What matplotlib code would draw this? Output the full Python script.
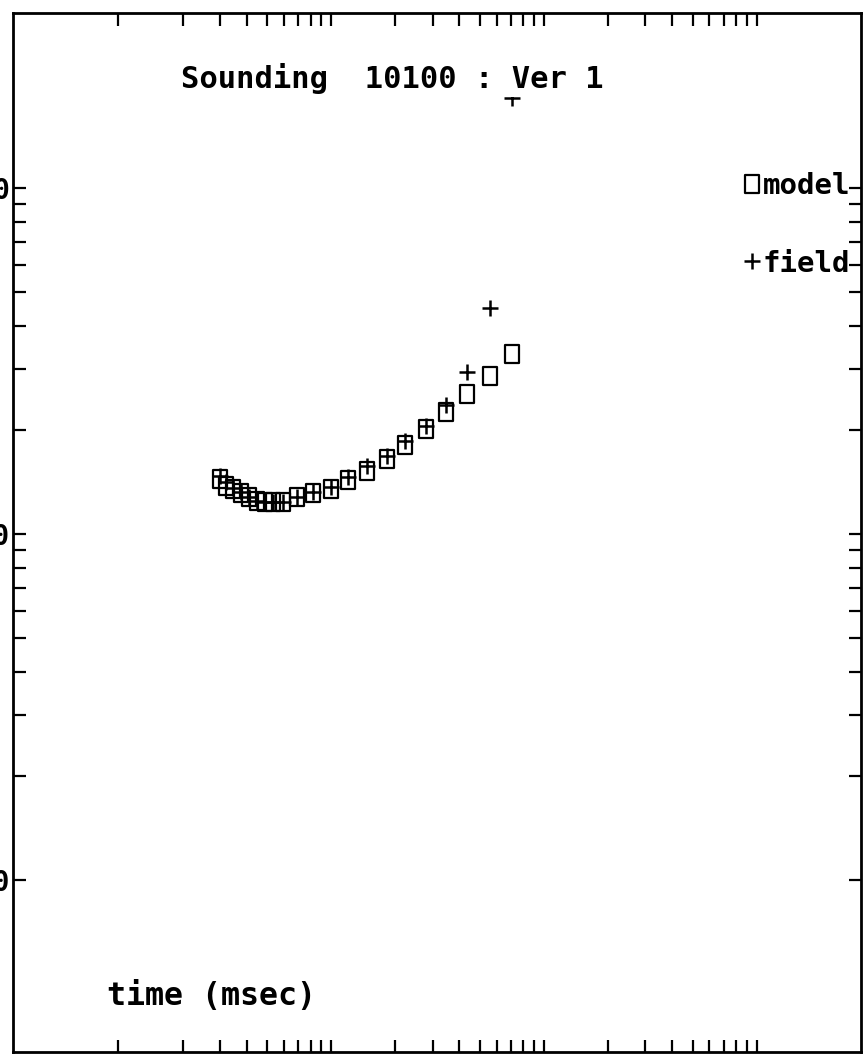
import numpy as np
import matplotlib
matplotlib.use('Agg')
import matplotlib.pyplot as plt
import matplotlib.ticker as mticker
from matplotlib.path import Path

# ============================================================
# Data: TEM sounding 10100, model vs field response
# ============================================================
time_ms = [0.300, 0.320, 0.345, 0.377, 0.411, 0.448, 0.489, 0.532, 0.593, 0.690, 0.820,
           1.00, 1.20, 1.47, 1.83, 2.22, 2.79, 3.47, 4.35, 5.58, 7.08]
model_vals = [144, 138, 135, 131, 128, 125, 124, 124, 124, 128, 131,
              135, 143, 152, 165, 181, 201, 225, 254, 286, 331]
field_vals = [147, 141, 136, 132, 128, 125, 124, 124, 124, 128, 132,
              137, 146, 157, 168, 186, 205, 236, 294, 450, 1820]

x_ticks = [0.1, 0.2, 0.3, 0.4, 0.5, 0.6, 0.7, 0.8, 0.9,
           1, 2, 3, 4, 5, 6, 7, 8, 9,
           10, 20, 30, 40, 50, 60, 70, 80, 90, 100]
y_ticks = [10, 20, 30, 40, 50, 60, 70, 80, 90,
           100, 200, 300, 400, 500, 600, 700, 800, 900, 1000]
y_label_ticks = [10, 100, 1000]
y_label_text = ['10', '100', '1000']

title = 'Sounding  10100 : Ver 1'
xlabel = 'time (msec)'

FONT = 'DejaVu Sans Mono'
W, H = 864, 1062


# ============================================================
# Plot
# ============================================================
def plot_sounding():
    fig = plt.figure(figsize=(W / 100, H / 100), dpi=100)
    fig.patch.set_facecolor('white')

    # axes frame in pixel coords: x 13..861, y 13..1052
    ax = fig.add_axes([13 / W, 1 - 1052 / H, (861 - 13) / W, (1052 - 13) / H])
    ax.set_xscale('log')
    ax.set_yscale('log')
    ax.set_xlim(10 ** -1.496, 10 ** 2.491)
    ax.set_ylim(10 ** 0.503, 10 ** 3.506)

    for s in ax.spines.values():
        s.set_linewidth(2)

    # ticks: same length all round, inside, on all four sides
    ax.xaxis.set_major_locator(mticker.FixedLocator(x_ticks))
    ax.xaxis.set_minor_locator(mticker.NullLocator())
    ax.yaxis.set_major_locator(mticker.FixedLocator(y_ticks))
    ax.yaxis.set_minor_locator(mticker.NullLocator())
    ax.xaxis.set_major_formatter(mticker.NullFormatter())
    labels = {v: t for v, t in zip(y_label_ticks, y_label_text)}
    ax.yaxis.set_major_formatter(mticker.FuncFormatter(lambda v, p: labels.get(int(round(v)), '')))
    ax.tick_params(which='both', direction='in', length=9, width=1.6,
                   top=True, right=True, bottom=True, left=True,
                   labelbottom=False, labelleft=True, pad=2)
    for lab in ax.get_yticklabels():
        lab.set_fontfamily(FONT)
        lab.set_fontweight('bold')
        lab.set_fontsize(20)

    # tall open rectangle for the model marker
    verts = [(-0.4, -0.5), (0.4, -0.5), (0.4, 0.5), (-0.4, 0.5), (-0.4, -0.5)]
    codes = [Path.MOVETO, Path.LINETO, Path.LINETO, Path.LINETO, Path.CLOSEPOLY]
    rect = Path(verts, codes)

    ax.plot(time_ms, model_vals, linestyle='none', marker=rect, markersize=13,
            markerfacecolor='none', markeredgecolor='black', markeredgewidth=1.6,
            label='model')
    ax.plot(time_ms, field_vals, linestyle='none', marker='+', markersize=12,
            markeredgecolor='black', markeredgewidth=1.8, label='field')

    ax.legend(loc='upper right', bbox_to_anchor=(850 / W, 1 - 172 / H),
              bbox_transform=fig.transFigure, frameon=False,
              handlelength=0.6, handletextpad=0.05, labelspacing=1.7,
              borderpad=0, borderaxespad=0,
              prop=dict(family=FONT, weight='bold', size=21))

    # title with white box, hides top of the last field mark
    fig.text(181 / W, 1 - 79 / H, title, ha='left', va='center',
             family=FONT, weight='bold', size=22, zorder=5,
             bbox=dict(facecolor='white', edgecolor='none', pad=2))

    fig.text(107 / W, 1 - 996 / H, xlabel, ha='left', va='center',
             family=FONT, weight='bold', size=22.8)

    plt.savefig('out.png', dpi=100, facecolor='white')
    plt.close()


if __name__ == '__main__':
    plot_sounding()
